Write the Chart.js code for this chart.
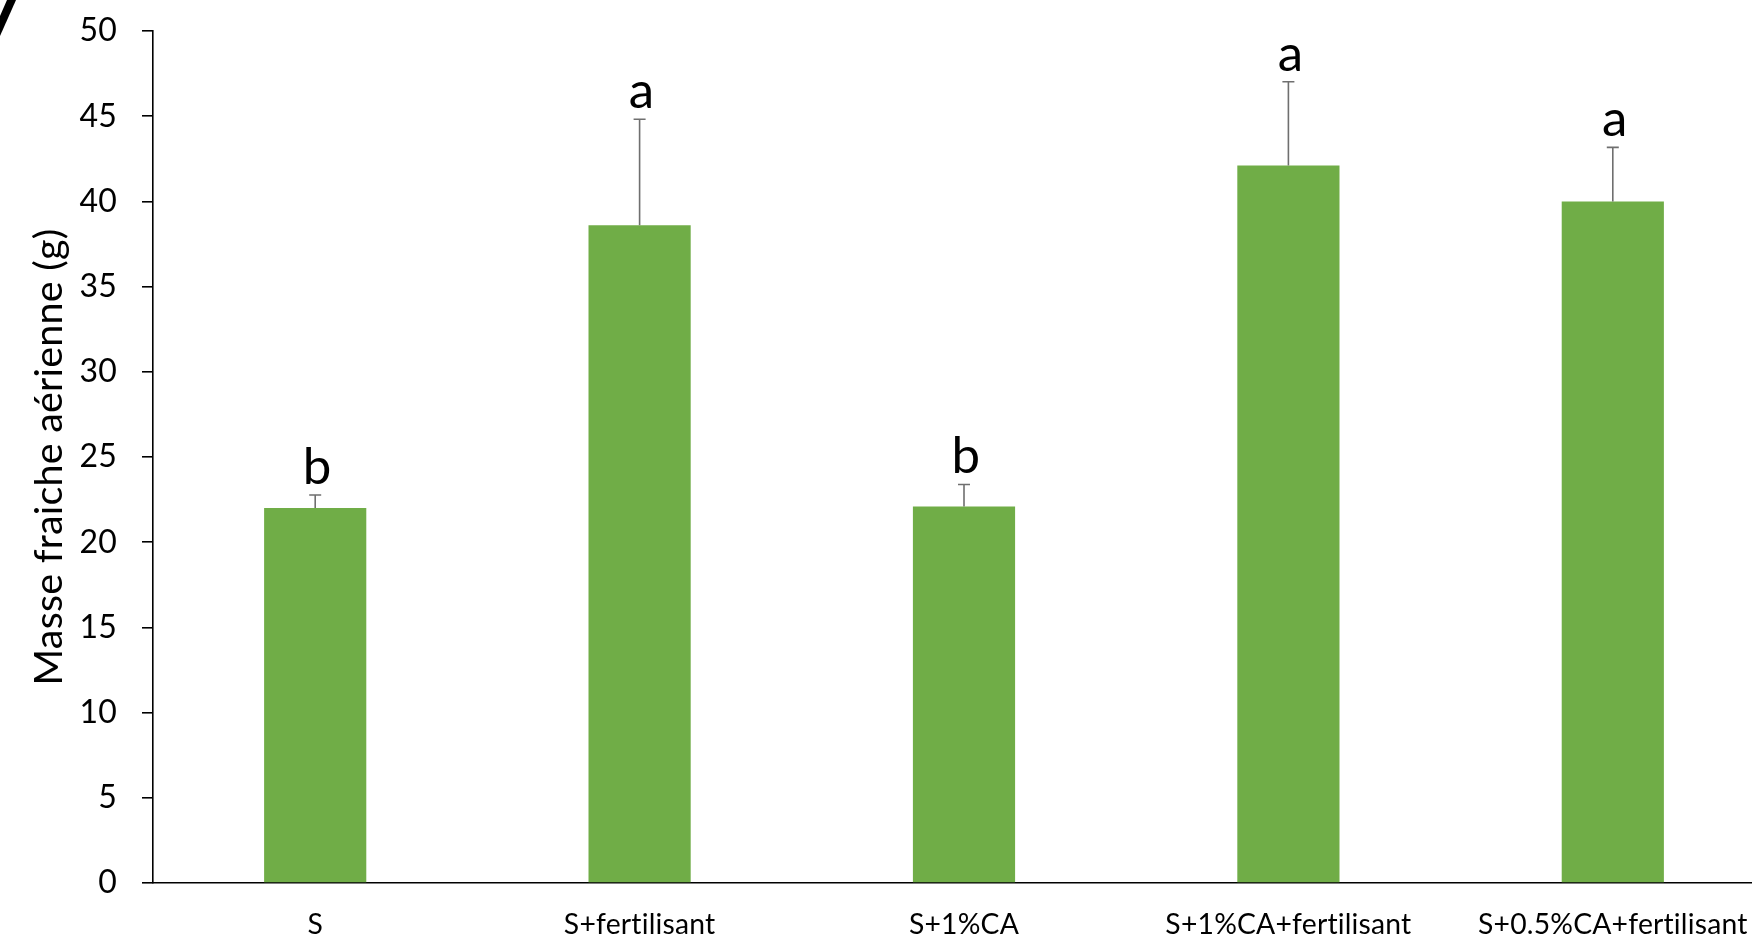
<!DOCTYPE html>
<html><head><meta charset="utf-8">
<script src="https://cdn.jsdelivr.net/npm/chart.js@4/dist/chart.umd.min.js"></script>
<style>
html,body{margin:0;padding:0;overflow:hidden;background:#fff;width:1752px;height:935px}
#wrap{position:relative;width:1800px;height:935px}
canvas{display:block}
</style></head><body><div id="wrap"><canvas id="c" width="1800" height="935" style="width:1800px;height:935px"></canvas></div>
<script>
const categories = ["S", "S+fertilisant", "S+1%CA", "S+1%CA+fertilisant", "S+0.5%CA+fertilisant"];
const means = [22.0, 38.6, 22.1, 42.1, 40.0];
const errors = [0.77, 6.22, 1.29, 4.92, 3.17];
const letters = ["b", "a", "b", "a", "a"];
const yMin = 0, yMax = 50, yStep = 5;
const yTitle = "Masse fraiche aérienne (g)";

const FONT = "Lato";

const errorBarPlugin = {
  id: 'errorBars',
  beforeDraw(chart) {
    if ('letterSpacing' in chart.ctx) chart.ctx.letterSpacing = '0.2px';
  },
  afterDatasetsDraw(chart) {
    const ctx = chart.ctx;
    const meta = chart.getDatasetMeta(0);
    const y = chart.scales.y;
    ctx.save();
    meta.data.forEach((bar, i) => {
      const x = bar.x;
      const yb = y.getPixelForValue(means[i]);
      const yt = y.getPixelForValue(means[i] + errors[i]);
      ctx.strokeStyle = '#6f6f6f';
      ctx.lineWidth = 1.6;
      ctx.beginPath();
      ctx.moveTo(x, yb); ctx.lineTo(x, yt);
      ctx.moveTo(x - 6, yt); ctx.lineTo(x + 6, yt);
      ctx.stroke();
      ctx.fillStyle = '#000';
      ctx.font = `51px ${FONT}`;
      ctx.textAlign = 'center';
      ctx.textBaseline = 'alphabetic';
      ctx.fillText(letters[i], x + 2, yt - 11);
    });
    ctx.restore();
  },
  afterDraw(chart) {
    const ctx = chart.ctx;
    ctx.save();
    ctx.fillStyle = '#000';
    ctx.beginPath();
    ctx.moveTo(7, 0); ctx.lineTo(16, 0); ctx.lineTo(0, 36); ctx.lineTo(0, 16);
    ctx.closePath(); ctx.fill();
    ctx.restore();
  }
};

new Chart(document.getElementById('c'), {
  type: 'bar',
  data: {
    labels: categories,
    datasets: [{
      data: means,
      backgroundColor: '#70AD47',
      borderWidth: 0,
      barPercentage: 0.315,
      categoryPercentage: 1.0
    }]
  },
  options: {
    responsive: false,
    animation: false,
    devicePixelRatio: 1,
    layout: { padding: { top: 31, right: 25, left: 0, bottom: 0 } },
    plugins: { legend: { display: false }, tooltip: { enabled: false } },
    scales: {
      x: {
        grid: { display: false, drawTicks: false },
        border: { display: true, color: '#000', width: 1.6 },
        ticks: { color: '#000', font: { family: FONT, size: 28.3 }, padding: 25, maxRotation: 0, autoSkip: false },
        afterFit(s) { s.height = 52; s.paddingTop = 0; s.paddingBottom = 0; }
      },
      y: {
        min: yMin, max: yMax,
        ticks: { stepSize: yStep, color: '#000', font: { family: FONT, size: 32 }, padding: 25 },
        grid: { drawOnChartArea: false, drawTicks: true, tickLength: 11, color: '#000', lineWidth: 1.6 },
        border: { display: true, color: '#000', width: 1.6 },
        title: { display: true, text: yTitle, color: '#000', font: { family: FONT, size: 39.5 }, padding: { top: 26, bottom: 0 } },
        afterFit(s) { s.width = 153; s.paddingTop = 0; s.paddingBottom = 0; }
      }
    }
  },
  plugins: [errorBarPlugin]
});
</script></body></html>
